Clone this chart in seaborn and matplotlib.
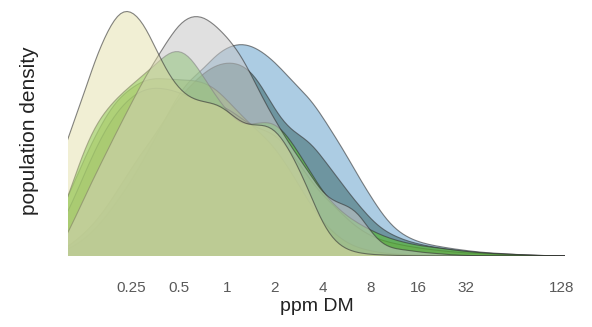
import numpy as np
import pandas as pd
import matplotlib
matplotlib.use("Agg")
import matplotlib.pyplot as plt
import matplotlib.colors as mcolors
import seaborn as sns

# log2 grid of concentrations (ppm DM), quarter-doubling steps
step = 0.25
log2_ppm = np.arange(-4.0, 7.01, step)
ppm = 2.0 ** log2_ppm

# population density per group on that grid (arbitrary units)
yellow = [30, 60, 94, 129, 161, 199, 226, 247, 247, 234, 208, 183, 166, 157, 154, 153, 146, 134, 130, 132,
          128, 111, 88, 61, 31, 14, 6, 3, 1.5, 1, 0.6, 0.4, 0.3, 0.2, 0.1, 0, 0, 0, 0, 0, 0, 0, 0, 0, 0]
grey = [0, 1, 6, 31, 57, 82, 106, 130, 153, 176, 196, 215, 233, 241, 240, 231, 219, 204, 182, 157,
        136, 116, 98, 81, 62, 54, 51, 44, 24, 11, 7, 6, 4, 3, 2, 1, 0.5, 0.3, 0.2, 0.1, 0, 0, 0, 0, 0]
blue = [1, 2, 4, 8, 16, 27, 41, 58, 75, 96, 118, 141, 164, 178, 186, 201, 209, 213, 211, 204,
        194, 181, 168, 157, 139, 120, 101, 79, 60, 41, 27, 19, 14, 11, 9, 7, 5.5, 4, 3, 2.5, 1.5, 1, 0.5, 0.3, 0]
slate = [1, 2, 4, 12, 22, 34, 50, 69, 88, 106, 121, 141, 159, 171, 183, 191, 194, 193, 186, 168,
         146, 129, 121, 114, 98, 82, 66, 51, 37, 26, 20, 15, 12, 9.5, 7.5, 6, 4.5, 3.5, 2.5, 2, 1.5, 1, 0.5, 0.3, 0]
green = [5, 14, 34, 71, 106, 133, 148, 161, 171, 181, 191, 204, 209, 200, 179, 161, 144, 131, 130, 135,
         135, 122, 103, 84, 63, 50, 40, 32, 26, 20, 16, 13, 10.5, 9, 7.5, 6, 4.5, 3.5, 2.5, 2, 1.5, 1, 0.6, 0.3, 0]
lime = [8, 20, 41, 68, 96, 121, 143, 159, 168, 176, 178, 177, 176, 176, 174, 168, 156, 143, 131, 121,
        108, 91, 71, 51, 34, 22, 13, 8, 5, 3, 2, 1.5, 1, 0.7, 0.5, 0.3, 0.2, 0.1, 0, 0, 0, 0, 0, 0, 0]
olive = [4, 12, 28, 51, 81, 108, 131, 148, 160, 167, 169, 167, 164, 158, 154, 152, 149, 139, 130, 126,
         123, 110, 93, 75, 60, 50, 37, 27, 20, 15, 12.5, 10, 8, 6.5, 5, 4, 3, 2.5, 2, 1.5, 1, 0.7, 0.4, 0.2, 0]

values = {"yellow": yellow, "lime": lime, "olive": olive, "green": green,
          "blue": blue, "slate": slate, "grey": grey}
# drawing order, back to front
groups = ["blue", "slate", "lime", "olive", "green", "grey", "yellow"]
colours = {
    "blue": "#5a9bc9",
    "slate": "#3c6969",
    "lime": "#98b03a",
    "olive": "#828c46",
    "green": "#5ec232",
    "grey": "#c8c8c8",
    "yellow": "#e1dda0",
}
fill_alpha = {"blue": 0.5, "slate": 0.55, "lime": 0.55, "olive": 0.35,
              "green": 0.6, "grey": 0.55, "yellow": 0.45}

tick_values = [0.25, 0.5, 1, 2, 4, 8, 16, 32, 128]
tick_labels = ["0.25", "0.5", "1", "2", "4", "8", "16", "32", "128"]

df = pd.concat(
    [pd.DataFrame({"ppm": ppm, "density": values[g], "group": g}) for g in groups],
    ignore_index=True,
)
total_weight = df["density"].sum()

sns.set_theme(style="white")
plt.rcParams["font.family"] = ["Liberation Sans", "DejaVu Sans"]

fig = plt.figure(figsize=(5.92, 3.27), dpi=100)
ax = fig.add_axes([68 / 592, 71 / 327, (565 - 68) / 592, (322 - 71) / 327])

kde_kws = dict(data=df, x="ppm", weights="density", hue="group", hue_order=groups,
               palette=colours, log_scale=2, common_norm=True, bw_method=0.12,
               ax=ax, legend=False)
sns.kdeplot(fill=True, linewidth=0, **kde_kws)
n_fill = len(ax.collections)
sns.kdeplot(fill=False, linewidth=0.8, **kde_kws)


def group_of(rgb):
    rgb = np.asarray(rgb[:3])
    return min(groups, key=lambda g: np.abs(np.array(mcolors.to_rgb(colours[g])) - rgb).sum())


for coll in ax.collections[:n_fill]:
    g = group_of(coll.get_facecolor()[0])
    i = groups.index(g)
    coll.set_alpha(None)
    coll.set_facecolor((*mcolors.to_rgb(colours[g]), fill_alpha[g]))
    coll.set_zorder(1 + 2 * i)

for line in ax.lines:
    g = group_of(mcolors.to_rgb(line.get_color()))
    i = groups.index(g)
    line.set_color("#333333")
    line.set_alpha(0.6)
    line.set_zorder(1.5 + 2 * i)

# densities are per log2 unit; convert back to the tabulated scale
unit = step * total_weight
ax.set_xlim(2 ** -3.33, 2 ** 7.07)
ax.set_ylim(0, 251 / unit)
ax.set_xticks(tick_values)
ax.set_xticklabels(tick_labels)
ax.xaxis.set_minor_locator(matplotlib.ticker.NullLocator())
ax.set_yticks([])
ax.tick_params(axis="x", length=0, pad=18, labelsize=11, labelcolor="#595959")
for s in ax.spines.values():
    s.set_visible(False)
ax.set_xlabel("ppm DM", fontsize=14, color="#222222", labelpad=2)
ax.set_ylabel("population density", fontsize=15, color="#222222", labelpad=21)

fig.savefig("out.png", dpi=100)
